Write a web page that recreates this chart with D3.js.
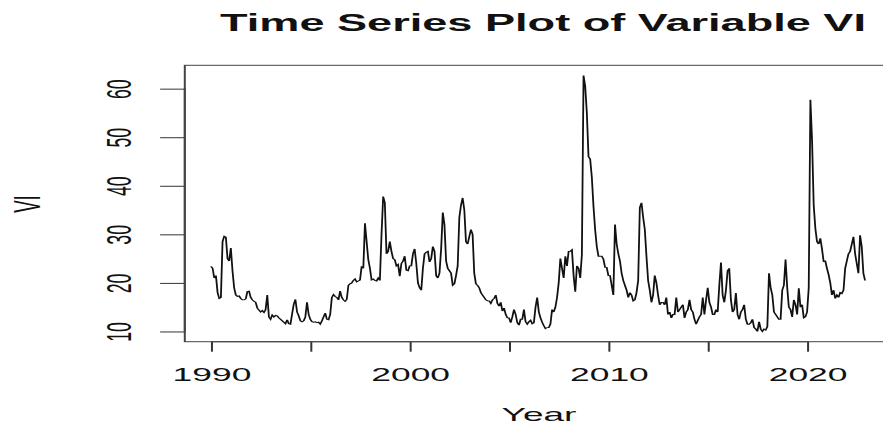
<!DOCTYPE html>
<html>
<head>
<meta charset="utf-8">
<script src="https://cdn.jsdelivr.net/npm/d3@7"></script>
<style>
  html, body { margin: 0; padding: 0; background: #ffffff; }
  svg { display: block; }
  text { font-family: "Liberation Sans", Arial, Helvetica, sans-serif; fill: #111; }
</style>
</head>
<body>
<svg id="chart" width="883" height="424"></svg>
<script>
// ---- data: monthly values of VI, Jan 1990 .. Dec 2022 ----
const startYear = 1990;
const vi1990s = [
  23.4, 23.0, 21.0, 21.5, 18.0, 16.8, 17.0, 28.5, 29.6, 29.4, 25.0, 24.5,
  27.2, 22.5, 19.0, 17.5, 17.2, 17.3, 16.8, 16.5, 16.5, 16.7, 18.2, 18.3,
  17.0, 16.5, 16.2, 16.0, 14.8, 14.4, 14.0, 14.3, 13.9, 14.5, 17.5, 13.0,
  12.5, 13.4, 13.0, 13.3, 13.2, 12.8, 12.5, 12.2, 11.9, 11.6, 12.4, 11.6,
  11.5, 13.6, 15.6, 16.6, 14.0, 13.2, 12.2, 12.0, 12.2, 13.0, 16.0, 13.5,
  12.5, 12.0, 11.9, 12.0, 11.8, 11.9, 11.5, 12.2, 13.0, 13.8, 12.5, 12.4,
  13.5, 17.0, 17.6, 17.2, 17.0, 16.5, 18.3, 17.0, 16.5, 16.2, 16.6, 19.5,
  19.8, 20.0, 20.5, 20.8, 20.2, 20.4, 20.6, 23.4, 23.0, 32.3, 28.5, 24.8,
  23.0, 20.6, 20.8, 20.5, 20.4, 21.0, 20.5, 30.0, 37.8, 36.5, 26.0, 26.5,
  28.5, 26.5, 25.0, 24.8, 23.5, 23.8, 21.4, 24.0, 24.5, 25.5, 22.6, 22.5
];
const vi2000s = [
  23.5, 23.5, 26.0, 27.0, 24.0, 20.0, 19.0, 18.5, 23.0, 26.0, 26.3, 26.5,
  24.3, 25.0, 27.5, 26.5, 21.5, 21.0, 22.0, 27.0, 34.5, 32.0, 24.5, 23.0,
  22.5, 22.0, 19.5, 19.8, 21.5, 23.5, 33.5, 36.0, 37.5, 35.0, 28.5, 28.0,
  29.5, 31.0, 30.0, 22.0, 19.8, 19.5, 19.0, 18.0, 17.5, 17.0, 16.5, 16.3,
  16.3, 15.8, 16.5, 16.8, 17.5, 15.8, 15.2, 16.0, 14.2, 14.8, 13.5, 12.8,
  12.8, 11.8, 13.0, 14.5, 13.5, 11.8, 11.3, 12.5, 12.5, 14.5, 12.0, 11.5,
  12.0, 12.3, 11.6, 11.8, 15.0, 17.0, 14.0, 12.8, 11.9, 11.2, 10.6, 10.8,
  10.8, 11.5, 14.5, 14.0, 15.0, 17.0, 20.0, 25.0, 23.0, 21.0, 25.5, 23.5,
  26.5, 26.5, 26.8, 21.5, 18.2, 23.5, 23.0, 21.0, 25.8, 62.7, 60.5, 55.0,
  46.0, 45.5, 41.8, 35.8, 31.0, 27.5, 25.5, 25.5, 25.5, 24.9, 23.2, 23.2
];
const vi2010s = [
  21.5, 21.5, 19.5, 17.5, 32.0, 28.0, 26.0, 24.5, 22.0, 20.5, 19.5, 18.5,
  17.0, 18.0, 17.5, 16.3, 16.5, 18.0, 20.5, 35.5, 36.5, 33.5, 31.0, 25.5,
  20.5, 18.5, 16.0, 17.5, 21.5, 20.0, 17.5, 15.5, 16.0, 16.0, 15.5, 17.0,
  13.5, 14.0, 12.8, 13.5, 13.5, 17.0, 14.0, 14.5, 15.0, 15.5, 12.8, 14.0,
  14.5, 16.5, 14.5, 14.0, 12.5, 11.5, 12.3, 13.0, 13.5, 17.0, 13.5, 16.5,
  19.0, 16.0, 15.0, 13.5, 13.5, 14.5, 14.0, 19.5, 24.2, 17.5, 16.0, 18.5,
  22.5, 23.0, 16.5, 14.0, 14.5, 17.9, 13.5, 12.5, 14.0, 14.5, 15.5, 12.5,
  11.5, 11.5, 11.8, 12.5, 10.8, 10.5, 10.0, 12.0, 10.5, 10.0, 10.5, 10.3,
  11.0, 22.0, 19.0, 17.5, 14.0, 13.5, 13.0, 12.5, 12.5, 18.5, 19.5, 24.8,
  19.0, 15.0, 14.5, 13.0, 16.5, 15.5, 13.5, 18.9, 15.0, 15.5, 12.8, 13.0
];
const vi2020s = [
  14.0, 19.0, 57.7, 49.4, 36.0, 31.2, 28.5, 28.0, 29.2, 27.0, 24.4, 24.5,
  23.0, 21.7, 20.0, 17.5, 18.5, 16.8, 17.5, 17.0, 18.0, 17.8, 18.5, 23.0,
  24.5, 26.0, 26.5, 28.0, 29.5, 26.0, 24.0, 22.0, 29.8, 27.5, 22.0, 20.5
];
const xTickValues = [1990, 1995, 2000, 2005, 2010, 2015, 2020];
const xTickLabels = [1990, 2000, 2010, 2020];
const yTickValues = [10, 20, 30, 40, 50, 60];
const titleText = "Time Series Plot of Variable VI";
const xLabelText = "Year";
const yLabelText = "VI";

// ---- build series ----
const values = [...vi1990s, ...vi2000s, ...vi2010s, ...vi2020s];
const series = values.map((v, i) => ({ t: startYear + i / 12, v }));

// ---- layout (picture is horizontally stretched) ----
const S = 2.0;
const box = { left: 184.8 / S, right: 891.2 / S, top: 65.3, bottom: 341.7 };

const svg = d3.select("#chart");
const root = svg.append("g").attr("transform", `scale(${S},1)`);

// R-style 4% axis extension
const tExt = d3.extent(series, d => d.t);
const vExt = d3.extent(series, d => d.v);
const tPad = (tExt[1] - tExt[0]) * 0.04;
const vPad = (vExt[1] - vExt[0]) * 0.04;

const x = d3.scaleLinear().domain([tExt[0] - tPad, tExt[1] + tPad]).range([box.left, box.right]);
const y = d3.scaleLinear().domain([vExt[0] - vPad, vExt[1] + vPad]).range([box.bottom, box.top]);

// clip
root.append("clipPath").attr("id", "plotclip")
  .append("rect").attr("x", box.left).attr("y", box.top)
  .attr("width", box.right - box.left).attr("height", box.bottom - box.top);

// line
const line = d3.line().x(d => x(d.t)).y(d => y(d.v)).curve(d3.curveLinear);
root.append("path")
  .datum(series)
  .attr("clip-path", "url(#plotclip)")
  .attr("d", line)
  .attr("fill", "none")
  .attr("stroke", "#111")
  .attr("stroke-width", 0.9)
  .attr("stroke-linejoin", "miter");

// box
root.append("rect")
  .attr("x", box.left).attr("y", box.top)
  .attr("width", box.right - box.left).attr("height", box.bottom - box.top)
  .attr("fill", "none").attr("stroke", "#444").attr("stroke-width", 1);

// x axis
const xAxis = root.append("g")
  .attr("transform", `translate(0,${box.bottom})`)
  .call(d3.axisBottom(x).tickValues(xTickValues).tickSize(10)
    .tickFormat(d => xTickLabels.includes(d) ? String(d) : ""));
xAxis.select(".domain").remove();
xAxis.append("line")
  .attr("x1", x(xTickValues[0])).attr("x2", x(xTickValues[xTickValues.length - 1]))
  .attr("y1", 0).attr("y2", 0).attr("stroke", "#444");
xAxis.selectAll(".tick line").attr("stroke", "#333").attr("stroke-width", 1);
xAxis.selectAll(".tick text")
  .attr("y", 39.3).attr("dy", 0)
  .style("font-size", "17.7px")
  .style("font-family", '"Liberation Sans", Arial, sans-serif')
  .attr("fill", "#111");

// y axis
const yAxis = root.append("g")
  .attr("transform", `translate(${box.left},0)`)
  .call(d3.axisLeft(y).tickValues(yTickValues).tickSize(24.7 / S));
yAxis.select(".domain").remove();
yAxis.append("line")
  .attr("x1", 0).attr("x2", 0)
  .attr("y1", y(yTickValues[0])).attr("y2", y(yTickValues[yTickValues.length - 1]))
  .attr("stroke", "#444");
yAxis.selectAll(".tick line").attr("stroke", "#333").attr("stroke-width", 1);
yAxis.selectAll(".tick text")
  .attr("x", 0).attr("y", 0).attr("dy", 0)
  .attr("text-anchor", "middle")
  .attr("transform", `translate(${131 / S - box.left},0) rotate(-90)`)
  .style("font-size", "17.7px")
  .style("font-family", '"Liberation Sans", Arial, sans-serif')
  .attr("fill", "#111");

// title
root.append("text")
  .attr("x", 543 / S).attr("y", 31)
  .attr("text-anchor", "middle")
  .attr("textLength", 646 / S)
  .attr("lengthAdjust", "spacingAndGlyphs")
  .style("font-size", "23px")
  .style("font-weight", "bold")
  .text(titleText);

// x label
root.append("text")
  .attr("x", 539 / S).attr("y", 421.5)
  .attr("text-anchor", "middle")
  .style("font-size", "18.5px")
  .text(xLabelText);

// y label
root.append("text")
  .attr("transform", `translate(${40 / S},204) rotate(-90)`)
  .attr("text-anchor", "middle")
  .style("font-size", "18.5px")
  .text(yLabelText);
</script>
</body>
</html>
